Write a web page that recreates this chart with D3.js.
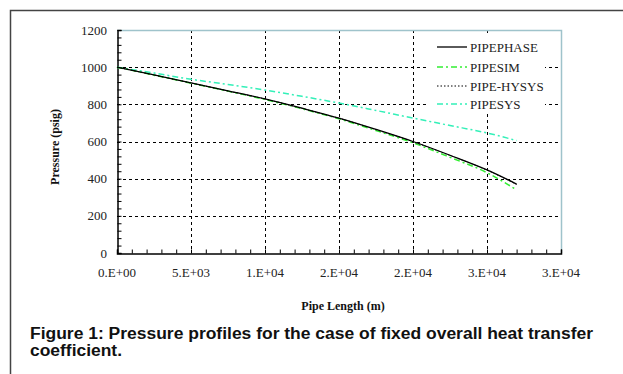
<!DOCTYPE html>
<html>
<head>
	<script src='https://d3js.org/d3.v7.min.js'></script>
	<style type="text/css">
		body { margin: 0; background: #fff; }
		.tick-label { font-family: 'Liberation Serif', serif; font-size: 13px; fill: #222; }
		.axis-title { font-family: 'Liberation Serif', serif; font-size: 12px; font-weight: bold; fill: #111; }
		.caption { font-family: 'Liberation Sans', Arial, sans-serif; font-size: 16px; font-weight: bold; fill: #111; }
	</style>
</head>
<body>
	<script type="text/javascript">
		// pipe length (m)
		var lengths = [0, 2500, 5000, 7500, 10000, 12500, 15000, 17500, 20000, 22500, 25000, 27000];

		// pressure (psig) per simulator
		var pipephase = [1000, 958, 916, 873, 829, 779, 726, 665, 600, 526, 447, 371];
		var pipesim   = [1000, 957, 914, 871, 826, 776, 722, 659, 593, 515, 432, 340];
		var pipeHysys = [1000, 958, 915, 872, 829, 778, 725, 664, 599, 525, 446, 369];
		var pipesys   = [1000, 968, 935, 907, 877, 843, 807, 767, 726, 686, 646, 605];

		var xTicks = [0, 5000, 10000, 15000, 20000, 25000, 30000];
		var yTicks = [0, 200, 400, 600, 800, 1000, 1200];

		var seriesNames = ['PIPEPHASE', 'PIPESIM', 'PIPE-HYSYS', 'PIPESYS'];

		var W = 623, H = 374;
		var plot = { left: 117, right: 561, top: 30, bottom: 253 };

		var svg = d3.select('body')
			.append('svg')
				.attr('width', W)
				.attr('height', H);

		// outer frame of the figure
		svg.append('path')
			.attr('d', 'M10.5,' + H + 'V10.5H' + W)
			.attr('fill', 'none')
			.attr('stroke', '#444')
			.attr('stroke-width', 1.5);

		var x = d3.scaleLinear().domain([0, 30000]).range([plot.left, plot.right]);
		var y = d3.scaleLinear().domain([0, 1200]).range([plot.bottom, plot.top]);

		// excel style "0.E+00"
		function sci(v) {
			var s = v.toExponential(0).split('e');
			var ex = +s[1];
			return s[0] + '.E' + (ex < 0 ? '-' : '+') + d3.format('02')(Math.abs(ex));
		}

		/** grid **/
		var grid = svg.append('g')
			.attr('stroke', '#000')
			.attr('stroke-width', 1)
			.attr('stroke-dasharray', '3,3');

		grid.selectAll('.hgrid')
			.data(yTicks.filter(function(d) { return d > 0 && d < 1200; })).enter()
			.append('line')
				.attr('x1', plot.left)
				.attr('x2', plot.right)
				.attr('y1', function(d) { return Math.round(y(d)) + 0.5; })
				.attr('y2', function(d) { return Math.round(y(d)) + 0.5; });

		grid.selectAll('.vgrid')
			.data(xTicks.filter(function(d) { return d > 0 && d < 30000; })).enter()
			.append('line')
				.attr('y1', plot.top)
				.attr('y2', plot.bottom)
				.attr('x1', function(d) { return Math.round(x(d)) + 0.5; })
				.attr('x2', function(d) { return Math.round(x(d)) + 0.5; });

		// top and right border
		svg.append('path')
			.attr('d', 'M' + plot.left + ',' + (plot.top + 0.5) + 'H' + (plot.right + 0.5) + 'V' + plot.bottom)
			.attr('fill', 'none')
			.attr('stroke', '#9fc3cb')
			.attr('stroke-width', 1.5);

		/** axes **/
		var yAxis = d3.axisLeft(y)
			.tickValues(d3.range(0, 1201, 40))
			.tickSize(-4)
			.tickFormat('');
		var gy = svg.append('g')
			.attr('transform', 'translate(' + (plot.left + 0.5) + ',0)')
			.call(yAxis);

		var xAxis = d3.axisBottom(x)
			.tickValues(d3.range(0, 30001, 1000))
			.tickSize(-4)
			.tickFormat('');
		var gx = svg.append('g')
			.attr('transform', 'translate(0,' + (plot.bottom + 0.5) + ')')
			.call(xAxis);

		[gx, gy].forEach(function(g) {
			g.select('.domain').attr('stroke', '#000').attr('stroke-width', 1.5);
			g.selectAll('.tick line').attr('stroke', '#000');
		});

		svg.selectAll('.ylab')
			.data(yTicks).enter()
			.append('text')
				.attr('class', 'tick-label')
				.attr('x', 107)
				.attr('y', function(d) { return y(d); })
				.attr('dy', '0.35em')
				.attr('text-anchor', 'end')
				.text(function(d) { return d; });

		svg.selectAll('.xlab')
			.data(xTicks).enter()
			.append('text')
				.attr('class', 'tick-label')
				.attr('x', function(d) { return x(d); })
				.attr('y', 277)
				.attr('text-anchor', 'middle')
				.text(sci);

		svg.append('text')
			.attr('class', 'axis-title')
			.attr('transform', 'translate(59,147) rotate(-90)')
			.attr('text-anchor', 'middle')
			.text('Pressure (psig)');

		svg.append('text')
			.attr('class', 'axis-title')
			.attr('x', 343)
			.attr('y', 310)
			.attr('text-anchor', 'middle')
			.text('Pipe Length (m)');

		/** series **/
		var styles = {
			'PIPEPHASE':  { data: pipephase, color: '#000', dash: null, width: 1.3 },
			'PIPESIM':    { data: pipesim, color: '#33ee33', dash: '6,3,2,3', width: 1.5 },
			'PIPE-HYSYS': { data: pipeHysys, color: '#000', dash: '1.5,2', width: 1 },
			'PIPESYS':    { data: pipesys, color: '#33f0b8', dash: '6,3,2,3', width: 1.5 }
		};

		var line = d3.line()
			.x(function(d, i) { return x(lengths[i]); })
			.y(function(d) { return y(d); })
			.curve(d3.curveMonotoneX);

		['PIPESYS', 'PIPESIM', 'PIPEPHASE', 'PIPE-HYSYS'].forEach(function(name) {
			var s = styles[name];
			svg.append('path')
				.datum(s.data)
				.attr('d', line)
				.attr('fill', 'none')
				.attr('stroke', s.color)
				.attr('stroke-width', s.width)
				.attr('stroke-dasharray', s.dash);
		});

		/** legend **/
		var legend = svg.append('g');
		legend.append('rect')
			.attr('x', 429)
			.attr('y', 36)
			.attr('width', 116)
			.attr('height', 77)
			.attr('fill', '#fff');

		var rows = legend.selectAll('.row')
			.data(seriesNames).enter()
			.append('g')
				.attr('transform', function(d, i) { return 'translate(437,' + [47, 67, 86, 104][i] + ')'; });

		rows.append('line')
			.attr('x1', 0)
			.attr('x2', 30)
			.attr('stroke', function(d) { return styles[d].color; })
			.attr('stroke-width', function(d) { return styles[d].width; })
			.attr('stroke-dasharray', function(d) { return styles[d].dash; });

		rows.append('text')
			.attr('class', 'tick-label')
			.attr('x', 33)
			.attr('dy', '0.35em')
			.text(function(d) { return d; });

		/** caption **/
		svg.append('text')
			.attr('class', 'caption')
			.attr('x', 30)
			.attr('y', 339)
			.attr('textLength', 563)
			.attr('lengthAdjust', 'spacingAndGlyphs')
			.text('Figure 1: Pressure profiles for the case of fixed overall heat transfer');

		svg.append('text')
			.attr('class', 'caption')
			.attr('x', 30)
			.attr('y', 356)
			.attr('textLength', 92)
			.attr('lengthAdjust', 'spacingAndGlyphs')
			.text('coefficient.');
	</script>
</body>
</html>
